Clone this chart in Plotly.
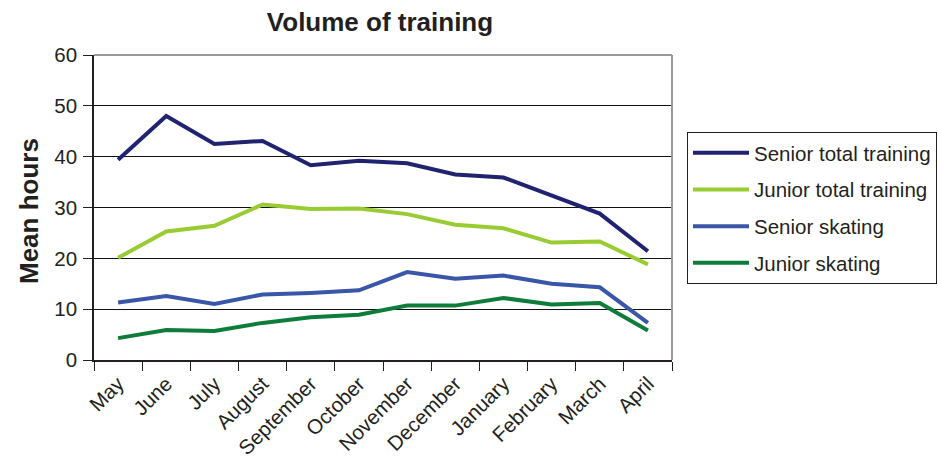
import plotly.graph_objects as go

months = ["May", "June", "July", "August", "September", "October", "November",
          "December", "January", "February", "March", "April"]
senior_total = [39.4, 48.0, 42.5, 43.1, 38.3, 39.2, 38.7, 36.5, 35.9, 32.4, 28.8, 21.4]
junior_total = [20.1, 25.3, 26.4, 30.6, 29.7, 29.8, 28.7, 26.6, 25.9, 23.1, 23.3, 18.8]
senior_skating = [11.3, 12.6, 11.0, 12.9, 13.2, 13.7, 17.3, 16.0, 16.6, 15.0, 14.3, 7.3]
junior_skating = [4.3, 5.9, 5.7, 7.3, 8.4, 8.9, 10.7, 10.7, 12.2, 10.9, 11.2, 5.8]

series = [
    ("Senior total training", senior_total, "#1f2370"),
    ("Junior total training", junior_total, "#99cc33"),
    ("Senior skating", senior_skating, "#3a56a8"),
    ("Junior skating", junior_skating, "#0e7c3a"),
]

FONT = "Liberation Sans, Arial, sans-serif"
TXT = "#231f20"

L, R, T, B = 94, 0, 55, 101
PW = 938 - L - R          # paper width
PLOT_W = 672 - L          # plot area width
PH = 461 - T - B

fig = go.Figure()
for i, (name, vals, col) in enumerate(series):
    fig.add_trace(go.Scatter(x=months, y=vals, name=name, mode="lines",
                             line=dict(color=col, width=4), legendgroup=f"g{i}"))

fig.update_layout(
    width=938, height=461,
    margin=dict(l=L, r=R, t=T, b=B),
    paper_bgcolor="white", plot_bgcolor="white",
    font=dict(family=FONT, color=TXT, size=20),
    title=dict(text="<b>Volume of training</b>", x=380/938, xanchor="center",
               y=1 - 22/461, yanchor="middle", font=dict(size=26, color=TXT)),
    showlegend=True,
    legend=dict(x=(687 - L) / PW, xanchor="left", y=(360 - 132) / PH, yanchor="top",
                bordercolor=TXT, borderwidth=1, bgcolor="white",
                font=dict(size=20.5, color=TXT), tracegroupgap=7,
                itemwidth=56),
    xaxis=dict(type="category", tickson="boundaries", ticks="outside", ticklen=9,
               tickcolor=TXT, showline=True, linecolor=TXT, linewidth=1.5,
               tickangle=-45, showgrid=False, tickfont=dict(size=20.5),
               ticklabelstandoff=2,
               range=[-0.5, 11.5], domain=[0, PLOT_W / PW], automargin=False),
    yaxis=dict(range=[0, 60], tickvals=[0, 10, 20, 30, 40, 50, 60], ticks="outside",
               ticklen=9, tickcolor=TXT, showline=True, linecolor=TXT,
               linewidth=1.5, gridcolor="#111111", gridwidth=1.2, zeroline=False,
               tickfont=dict(size=20.5), ticklabelstandoff=2, automargin=False),
    annotations=[
        dict(text="<b>Mean hours</b>", xref="paper", yref="paper",
             x=(29 - L) / PW, y=(360 - 211) / PH, textangle=-90,
             xanchor="center", yanchor="middle", showarrow=False,
             font=dict(size=26, color=TXT)),
    ],
    shapes=[
        dict(type="line", xref="x domain", yref="y domain", x0=0, x1=1, y0=1, y1=1,
             line=dict(color="#999999", width=2), layer="above"),
        dict(type="line", xref="x domain", yref="y domain", x0=1, x1=1, y0=0, y1=1,
             line=dict(color="#999999", width=2), layer="above"),
    ],
)

fig.write_html("out.html", config={"displayModeBar": False},
               post_script="document.body.style.margin='0';")
